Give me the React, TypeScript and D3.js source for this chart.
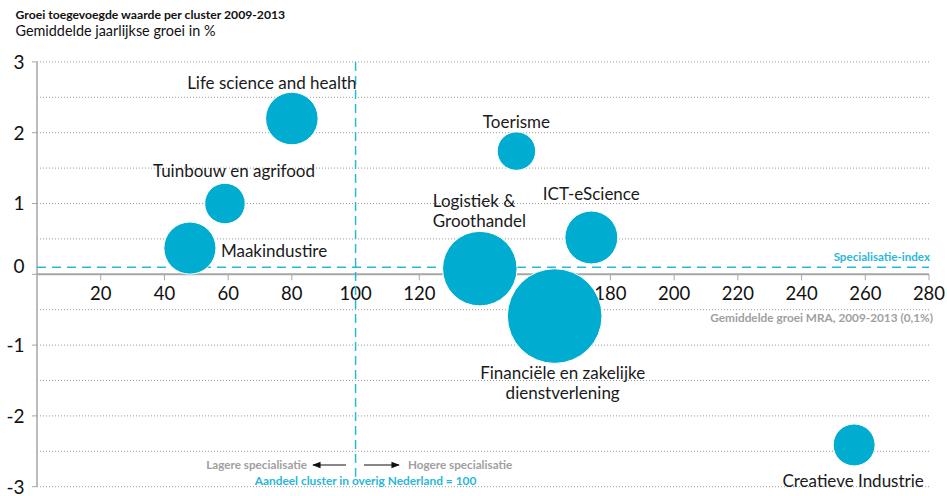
import React from "react";
import * as d3 from "d3";

const clusters = [
  "Life science and health",
  "Tuinbouw en agrifood",
  "Maakindustire",
  "Financiële en zakelijke dienstverlening",
  "Logistiek & Groothandel",
  "Toerisme",
  "ICT-eScience",
  "Creatieve Industrie",
];
const specialisation = [80, 59, 48, 162.5, 139, 150.5, 174, 256.5];
const growth = [2.2, 1.0, 0.37, -0.59, 0.08, 1.74, 0.52, -2.41];
const sizeValue = [6.9, 4.1, 6.8, 22.4, 13.9, 3.7, 7.0, 4.4];
const xTicks = [20, 40, 60, 80, 100, 120, 140, 160, 180, 200, 220, 240, 260, 280];
const yTicks = [-3, -2, -1, 0, 1, 2, 3];
const gridValues = [-3, -2.5, -2, -1.5, -1, -0.5, 0.5, 1, 1.5, 2, 2.5, 3];
const specialisationIndex = 0.1;
const nationalShare = 100;

const W = 947;
const H = 496;
const FONT = "Lato, 'Noto Sans', sans-serif";
const CYAN = "#00acd0";
const LINE_CYAN = "#2bb7d8";
const GRAY = "#a6a6a6";

// label layout (offsets relative to bubble centre)
const labelLayout: Record<string, { lines: string[]; anchor: string; dx: number; dy: number; lh: number }> = {
  "Life science and health": { lines: ["Life science and health"], anchor: "middle", dx: -20, dy: -30, lh: 0 },
  "Tuinbouw en agrifood": { lines: ["Tuinbouw en agrifood"], anchor: "middle", dx: 9, dy: -27, lh: 0 },
  Maakindustire: { lines: ["Maakindustire"], anchor: "start", dx: 31, dy: 9, lh: 0 },
  "Logistiek & Groothandel": { lines: ["Logistiek &", "Groothandel"], anchor: "start", dx: -47, dy: -62, lh: 20 },
  Toerisme: { lines: ["Toerisme"], anchor: "middle", dx: 0, dy: -23, lh: 0 },
  "ICT-eScience": { lines: ["ICT-eScience"], anchor: "middle", dx: 0, dy: -37, lh: 0 },
  "Financiële en zakelijke dienstverlening": {
    lines: ["Financiële en zakelijke", "dienstverlening"],
    anchor: "middle",
    dx: 8,
    dy: 63,
    lh: 19.5,
  },
  "Creatieve Industrie": { lines: ["Creatieve Industrie"], anchor: "middle", dx: -1, dy: 42, lh: 0 },
};

export default function App() {
  const x = d3.scaleLinear().domain([0, 280]).range([37, 929]);
  const y = d3.scaleLinear().domain([-3, 3]).range([486.7, 61.9]);
  const r = d3.scaleSqrt().domain([0, d3.max(sizeValue) as number]).range([0, 47.3]);

  const data = clusters.map((c, i) => ({ name: c, x: specialisation[i], y: growth[i], s: sizeValue[i] }));

  return (
    <svg width={W} height={H} style={{ position: "absolute", left: 0, top: 0, background: "#fff" }} fontFamily={FONT}>
      <text x={15.5} y={19} fontSize={12.2} fontWeight={700} fill="#111">
        Groei toegevoegde waarde per cluster 2009-2013
      </text>
      <text x={15.5} y={36} fontSize={14.4} fill="#111">
        Gemiddelde jaarlijkse groei in %
      </text>

      {/* grid */}
      {gridValues.map((g) => (
        <line key={g} x1={x(0)} x2={x(280)} y1={y(g)} y2={y(g)} stroke="#9a9a9a" strokeWidth={1} strokeDasharray="1,2" />
      ))}

      {/* y axis */}
      <line x1={x(0)} x2={x(0)} y1={y(3)} y2={y(-3)} stroke={GRAY} strokeWidth={1.5} />
      {yTicks.map((t) => (
        <g key={t}>
          <line x1={x(0) - 5} x2={x(0)} y1={y(t)} y2={y(t)} stroke={GRAY} strokeWidth={1} />
          <text x={24.5} y={y(t) + (t === 0 ? -1.5 : 6.8)} fontSize={19} textAnchor="end" fill="#111">
            {t}
          </text>
        </g>
      ))}

      {/* x axis */}
      <line x1={x(0)} x2={x(280)} y1={y(0)} y2={y(0)} stroke={GRAY} strokeWidth={2} />
      {xTicks.map((t) => (
        <g key={t}>
          <line x1={x(t)} x2={x(t)} y1={y(0)} y2={y(0) + 6} stroke={GRAY} strokeWidth={1} />
          <text x={x(t)} y={y(0) + 26} fontSize={18.5} textAnchor="middle" fill="#111">
            {t}
          </text>
        </g>
      ))}

      {/* reference lines */}
      <line
        x1={x(0)}
        x2={x(280)}
        y1={y(specialisationIndex)}
        y2={y(specialisationIndex)}
        stroke={LINE_CYAN}
        strokeWidth={1.5}
        strokeDasharray="9,6"
      />
      <line
        x1={x(nationalShare)}
        x2={x(nationalShare)}
        y1={y(3)}
        y2={y(-3) - 10}
        stroke={LINE_CYAN}
        strokeWidth={1.5}
        strokeDasharray="9,5"
      />

      {/* bubbles */}
      {data.map((d) => (
        <circle key={d.name} cx={x(d.x)} cy={y(d.y)} r={r(d.s)} fill={CYAN} stroke="#fff" strokeWidth={1} />
      ))}

      {/* labels */}
      {data.map((d) => {
        const L = labelLayout[d.name];
        return (
          <text
            key={d.name + "-l"}
            x={x(d.x) + L.dx}
            y={y(d.y) + L.dy}
            fontSize={17}
            textAnchor={L.anchor as any}
            fill="#1a1a1a"
          >
            {L.lines.map((ln, j) => (
              <tspan key={j} x={x(d.x) + L.dx} dy={j === 0 ? 0 : L.lh}>
                {ln}
              </tspan>
            ))}
          </text>
        );
      })}

      {/* annotations */}
      <text x={930} y={261} fontSize={11.6} fontWeight={700} textAnchor="end" fill={LINE_CYAN}>
        Specialisatie-index
      </text>
      <text x={933} y={322} fontSize={11.8} fontWeight={700} textAnchor="end" fill="#a0a0a0">
        Gemiddelde groei MRA, 2009-2013 (0,1%)
      </text>
      <text x={307} y={469} fontSize={11.7} fontWeight={700} textAnchor="end" fill="#a0a0a0">
        Lagere specialisatie
      </text>
      <text x={408} y={469} fontSize={11.7} fontWeight={700} textAnchor="start" fill="#a0a0a0">
        Hogere specialisatie
      </text>
      <defs>
        <marker id="ah" viewBox="0 0 10 10" refX={9} refY={5} markerWidth={7} markerHeight={7} orient="auto">
          <path d="M0,1 L10,5 L0,9 Z" fill="#111" />
        </marker>
      </defs>
      <line x1={346} x2={313} y1={465} y2={465} stroke="#111" strokeWidth={1.2} markerEnd="url(#ah)" />
      <line x1={364} x2={399} y1={465} y2={465} stroke="#111" strokeWidth={1.2} markerEnd="url(#ah)" />
      <text x={365.5} y={485} fontSize={11.9} fontWeight={700} textAnchor="middle" fill={LINE_CYAN}>
        Aandeel cluster in overig Nederland = 100
      </text>
    </svg>
  );
}
